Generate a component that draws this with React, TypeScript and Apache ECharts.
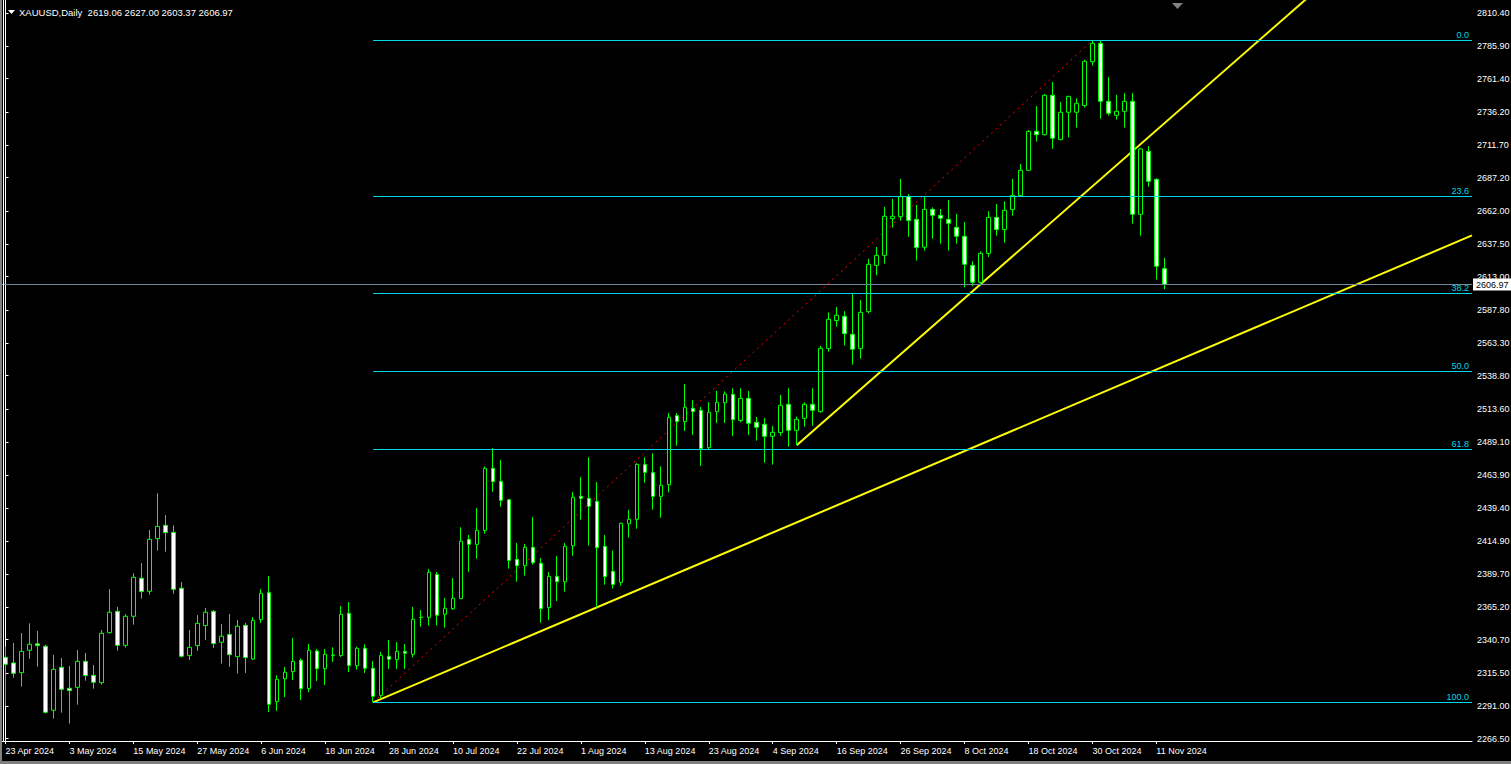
import { useEffect, useRef } from "react";
import * as echarts from "echarts";

// ---------- data ----------
const symbolTitle = "XAUUSD,Daily";
const headerValues = ["2619.06", "2627.00", "2603.37", "2606.97"];

const opens = [
  2327.5, 2323.3, 2316.0, 2332.8, 2337.6, 2335.8, 2287.8, 2320.0, 2304.3, 2305.0,
  2324.5, 2314.0, 2308.5, 2346.0, 2362.0, 2336.5, 2358.3, 2386.8, 2377.0, 2416.5,
  2426.5, 2421.2, 2379.3, 2328.8, 2336.3, 2351.3, 2362.0, 2338.8, 2344.7, 2328.0,
  2351.5, 2326.3, 2355.7, 2376.2, 2294.3, 2311.5, 2316.8, 2325.3, 2304.0, 2332.3,
  2319.0, 2329.3, 2328.8, 2360.5, 2321.3, 2334.3, 2319.3, 2299.0, 2328.3, 2325.8,
  2332.0, 2329.8, 2357.6, 2357.5, 2389.7, 2359.8, 2364.0, 2371.5, 2416.0, 2412.2,
  2422.7, 2469.2, 2459.5, 2445.7, 2401.0, 2396.2, 2410.0, 2398.0, 2364.8, 2388.2,
  2384.2, 2411.2, 2448.2, 2446.7, 2444.5, 2410.7, 2392.0, 2383.7, 2427.7, 2431.0,
  2472.0, 2466.0, 2448.2, 2457.0, 2508.7, 2504.2, 2514.2, 2512.7, 2484.7, 2511.7,
  2518.4, 2524.7, 2505.0, 2521.7, 2503.7, 2502.2, 2493.2, 2496.0, 2517.2, 2497.7,
  2506.7, 2517.2, 2511.7, 2559.0, 2580.0, 2583.2, 2569.7, 2559.0, 2586.7, 2621.4,
  2628.9, 2656.4, 2657.9, 2672.9, 2655.9, 2635.0, 2663.4, 2658.9, 2655.9, 2649.9,
  2643.2, 2621.4, 2608.7, 2630.4, 2657.4, 2648.2, 2663.2, 2673.7, 2692.7, 2721.9,
  2719.4, 2748.9, 2715.7, 2736.2, 2736.2, 2741.2, 2774.1, 2787.9, 2744.4, 2733.9,
  2736.9, 2744.4, 2659.7, 2706.9, 2685.9, 2619.06,
];
const highs = [
  2335.5, 2338.3, 2345.7, 2353.0, 2347.3, 2336.8, 2329.3, 2327.0, 2321.0, 2333.0,
  2330.8, 2321.8, 2348.0, 2378.7, 2365.3, 2359.8, 2390.5, 2398.2, 2423.0, 2450.5,
  2434.2, 2426.5, 2384.0, 2348.0, 2359.2, 2364.5, 2363.0, 2352.5, 2360.0, 2355.5,
  2353.3, 2357.7, 2378.7, 2388.5, 2314.0, 2320.3, 2342.0, 2326.8, 2337.5, 2333.8,
  2333.8, 2335.0, 2366.0, 2369.0, 2335.5, 2337.3, 2324.8, 2331.5, 2340.5, 2339.0,
  2337.5, 2365.3, 2363.0, 2393.8, 2391.5, 2372.0, 2387.0, 2425.0, 2419.2, 2439.5,
  2470.5, 2484.5, 2475.5, 2446.0, 2413.2, 2412.5, 2432.7, 2402.0, 2391.5, 2403.5,
  2413.2, 2451.5, 2462.7, 2477.5, 2459.0, 2419.2, 2407.7, 2428.5, 2438.0, 2473.0,
  2477.5, 2480.5, 2470.7, 2510.7, 2510.7, 2532.4, 2520.4, 2515.2, 2518.9, 2527.4,
  2526.9, 2529.2, 2529.2, 2527.2, 2507.7, 2507.0, 2501.0, 2524.2, 2529.2, 2508.0,
  2518.7, 2529.2, 2561.0, 2586.2, 2590.2, 2587.0, 2600.2, 2595.5, 2626.2, 2635.2,
  2665.2, 2671.2, 2686.2, 2674.9, 2666.7, 2672.9, 2664.9, 2663.7, 2670.4, 2659.9,
  2653.9, 2624.4, 2631.9, 2661.9, 2667.4, 2669.4, 2686.2, 2697.4, 2722.9, 2740.9,
  2749.9, 2758.9, 2743.9, 2748.6, 2746.6, 2775.6, 2790.1, 2789.6, 2762.6, 2749.2,
  2750.6, 2750.6, 2709.5, 2710.9, 2686.7, 2627.0,
];
const lows = [
  2291.0, 2312.3, 2305.5, 2326.3, 2320.5, 2285.3, 2281.5, 2286.0, 2277.8, 2292.0,
  2310.0, 2304.0, 2307.0, 2345.3, 2332.5, 2334.8, 2352.0, 2371.5, 2374.5, 2407.5,
  2406.7, 2375.2, 2327.3, 2325.5, 2332.3, 2340.5, 2334.5, 2322.8, 2320.3, 2315.3,
  2315.8, 2325.5, 2353.3, 2286.5, 2287.3, 2297.8, 2310.5, 2295.5, 2301.5, 2309.8,
  2306.8, 2324.0, 2327.8, 2316.5, 2318.3, 2315.8, 2293.7, 2296.8, 2318.8, 2318.8,
  2318.8, 2327.5, 2350.5, 2351.3, 2351.3, 2349.8, 2363.0, 2371.5, 2391.7, 2401.5,
  2420.2, 2451.7, 2440.5, 2394.0, 2384.2, 2388.8, 2397.0, 2353.5, 2355.5, 2369.8,
  2376.8, 2403.7, 2430.7, 2411.2, 2365.0, 2382.0, 2379.0, 2381.2, 2417.2, 2424.0,
  2458.5, 2438.2, 2432.2, 2451.2, 2486.2, 2497.2, 2494.2, 2471.0, 2483.5, 2503.2,
  2503.2, 2493.5, 2503.7, 2494.2, 2490.0, 2473.5, 2472.0, 2493.7, 2485.5, 2486.5,
  2500.5, 2501.2, 2511.0, 2556.7, 2575.5, 2561.2, 2547.0, 2551.5, 2585.4, 2613.9,
  2622.7, 2649.7, 2654.9, 2642.9, 2625.0, 2632.5, 2641.4, 2637.7, 2632.5, 2637.7,
  2604.9, 2605.7, 2606.2, 2627.7, 2643.7, 2638.4, 2658.7, 2673.2, 2692.2, 2714.2,
  2718.7, 2708.9, 2715.2, 2717.2, 2724.7, 2739.7, 2771.1, 2731.4, 2733.6, 2730.7,
  2724.7, 2652.7, 2643.7, 2680.4, 2610.7, 2603.37,
];
const closes = [
  2322.3, 2315.5, 2332.0, 2337.3, 2336.3, 2286.3, 2318.5, 2303.5, 2302.5, 2324.5,
  2313.8, 2308.8, 2345.5, 2361.3, 2336.5, 2358.3, 2387.5, 2376.8, 2416.0, 2425.7,
  2421.0, 2378.5, 2328.3, 2335.0, 2353.0, 2361.3, 2337.8, 2343.3, 2329.5, 2350.8,
  2327.3, 2355.2, 2375.5, 2292.3, 2311.0, 2316.3, 2324.5, 2304.0, 2332.8, 2319.0,
  2329.8, 2329.0, 2359.7, 2321.3, 2334.3, 2319.3, 2298.3, 2329.0, 2326.0, 2332.0,
  2330.5, 2356.0, 2357.4, 2391.3, 2359.0, 2364.3, 2371.8, 2414.5, 2412.2, 2422.7,
  2469.2, 2459.2, 2445.2, 2400.2, 2396.2, 2410.0, 2398.5, 2364.0, 2388.2, 2384.2,
  2410.7, 2447.5, 2446.7, 2440.7, 2409.7, 2388.0, 2382.2, 2428.0, 2431.0, 2472.2,
  2466.2, 2448.2, 2456.5, 2507.5, 2504.4, 2515.0, 2511.7, 2484.0, 2511.2, 2518.7,
  2524.9, 2505.7, 2521.7, 2503.0, 2500.0, 2493.2, 2496.2, 2516.5, 2497.7, 2506.0,
  2517.2, 2512.7, 2559.2, 2581.0, 2584.0, 2570.2, 2558.5, 2586.2, 2622.2, 2628.9,
  2658.2, 2658.2, 2672.9, 2655.0, 2634.8, 2663.4, 2658.9, 2656.7, 2652.9, 2643.2,
  2622.2, 2608.7, 2630.4, 2657.4, 2648.2, 2662.7, 2673.9, 2692.7, 2721.9, 2719.4,
  2748.9, 2716.7, 2736.2, 2748.1, 2742.9, 2774.4, 2787.9, 2744.4, 2735.4, 2736.9,
  2744.4, 2659.7, 2708.7, 2684.4, 2620.7, 2606.97,
];

const yTickLabels = [
  2266.5, 2291.0, 2315.5, 2340.7, 2365.2, 2389.7, 2414.9, 2439.4, 2463.9, 2489.1,
  2513.6, 2538.8, 2563.3, 2587.8, 2613.0, 2637.5, 2662.0, 2687.2, 2711.7, 2736.2,
  2761.4, 2785.9, 2810.4,
];
const fibLevels = [0, 23.6, 38.2, 50.0, 61.8, 100.0];
const fibLow = [46, 2293.7];
const fibHigh = [136, 2790.1];
const trend1 = [[46, 2293.7], [74, 2365.0]];
const trend2 = [[99, 2486.5], [122, 2607.2]];
const bidPrice = 2606.97;

const firstDate = [2024, 3, 23];
const monthNames = ["Jan", "Feb", "Mar", "Apr", "May", "Jun", "Jul", "Aug", "Sep", "Oct", "Nov", "Dec"];
const totalSlots = 184;
const yMin = 2264.77;
const yMax = 2820.37;

// ---------- helpers ----------
function buildDates(n: number): string[] {
  const out: string[] = [];
  const d = new Date(Date.UTC(firstDate[0], firstDate[1], firstDate[2]));
  while (out.length < n) {
    const wd = d.getUTCDay();
    if (wd !== 0 && wd !== 6) {
      out.push(`${d.getUTCDate()} ${monthNames[d.getUTCMonth()]} ${d.getUTCFullYear()}`);
    }
    d.setUTCDate(d.getUTCDate() + 1);
  }
  return out;
}

function ray(a: number[][], endX: number): number[][] {
  const slope = (a[1][1] - a[0][1]) / (a[1][0] - a[0][0]);
  return [a[0], [endX, a[0][1] + slope * (endX - a[0][0])]];
}

const FONT = "Liberation Sans";
const CYAN = "#00d8e6";

export default function App() {
  const ref = useRef<HTMLDivElement>(null);

  useEffect(() => {
    if (!ref.current) return;
    const chart = echarts.init(ref.current, undefined, { renderer: "svg" });
    const dates = buildDates(opens.length);
    const cats = dates.concat(new Array(totalSlots - dates.length).fill(""));
    const candleData = opens.map((o, i) => [o, closes[i], lows[i], highs[i]]);
    const endX = totalSlots - 0.5;
    const fibPrice = (l: number) => fibHigh[1] - ((fibHigh[1] - fibLow[1]) * l) / 100;
    const showIdx = (idx: number, val: string) => idx % 8 === 0 && val !== "";

    chart.setOption({
      animation: false,
      backgroundColor: "#000000",
      grid: { left: 1.5, top: 0, width: 1470.5, height: 741, containLabel: false, outerBoundsMode: "none" },
      xAxis: [
        {
          type: "category",
          data: cats,
          boundaryGap: true,
          axisLine: { show: true, lineStyle: { color: "#ffffff", width: 1 } },
          axisTick: { show: true, alignWithLabel: true, interval: showIdx, length: 3, lineStyle: { color: "#ffffff" } },
          axisLabel: {
            interval: showIdx,
            color: "#ffffff",
            fontSize: 9,
            fontFamily: FONT,
            align: "left",
            margin: 5,
          },
          splitLine: { show: false },
        },
        { type: "value", min: -0.5, max: endX, show: false },
      ],
      yAxis: {
        type: "value",
        position: "right",
        min: yMin,
        max: yMax,
        axisLine: { show: true, lineStyle: { color: "#ffffff", width: 1 } },
        axisTick: { show: true, length: 3, customValues: yTickLabels, lineStyle: { color: "#ffffff" } },
        axisLabel: {
          customValues: yTickLabels,
          color: "#ffffff",
          fontSize: 9,
          fontFamily: FONT,
          margin: 5,
          formatter: (v: number) => v.toFixed(2),
        },
        splitLine: { show: false },
      },
      series: [
        {
          type: "line",
          xAxisIndex: 1,
          data: ray(trend1, endX),
          symbol: "none",
          silent: true,
          lineStyle: { color: "#ffff00", width: 2 },
          z: 3,
        },
        {
          type: "line",
          xAxisIndex: 1,
          data: ray(trend2, endX),
          symbol: "none",
          silent: true,
          lineStyle: { color: "#ffff00", width: 2 },
          z: 3,
        },
        {
          type: "line",
          xAxisIndex: 1,
          data: [fibLow, fibHigh],
          symbol: "none",
          silent: true,
          lineStyle: { color: "#ff0000", width: 1, type: [2, 4] },
          z: 2,
          markLine: {
            silent: true,
            symbol: ["none", "none"],
            lineStyle: { color: CYAN, width: 1, type: "solid" },
            label: {
              show: true,
              position: "insideEndTop",
              formatter: "{b}",
              color: CYAN,
              fontSize: 9,
              fontFamily: FONT,
              distance: [3, 1],
            },
            data: fibLevels.map((l) => [
              { coord: [fibLow[0], fibPrice(l)], name: l.toFixed(1) },
              { coord: [endX, fibPrice(l)] },
            ]),
          },
        },
        {
          type: "candlestick",
          xAxisIndex: 0,
          data: candleData,
          barWidth: 4,
          z: 4,
          itemStyle: {
            color: "#000000",
            color0: "#ffffff",
            borderColor: "#00ff00",
            borderColor0: "#00ff00",
            borderColorDoji: "#00ff00",
            borderWidth: 1,
          },
          markLine: {
            silent: true,
            symbol: ["none", "none"],
            lineStyle: { color: "#778899", width: 1, type: "solid" },
            label: {
              show: true,
              position: "end",
              formatter: bidPrice.toFixed(2),
              color: "#000000",
              backgroundColor: "#ffffff",
              fontSize: 9,
              fontFamily: FONT,
              padding: [2, 3, 1, 3],
              distance: 1,
            },
            data: [{ yAxis: bidPrice }],
          },
        },
      ],
      graphic: [
        { type: "rect", shape: { x: 0, y: 0, width: 2, height: 764 }, style: { fill: "#808080" }, z: 100 },
        { type: "line", shape: { x1: 3.5, y1: 0, x2: 3.5, y2: 741 }, style: { stroke: "#ffffff", lineWidth: 1 }, z: 100 },
        { type: "rect", shape: { x: 0, y: 761, width: 1511, height: 3 }, style: { fill: "#808080" }, z: 100 },
        { type: "polygon", shape: { points: [[8, 10], [15, 10], [11.5, 14]] }, style: { fill: "#ffffff" }, z: 100 },
        {
          type: "text",
          x: 19,
          y: 12.5,
          style: {
            text: `${symbolTitle}  ${headerValues.join(" ")}`,
            fill: "#ffffff",
            font: `9.5px '${FONT}'`,
            verticalAlign: "middle",
          },
          z: 100,
        },
        { type: "polygon", shape: { points: [[1172, 3], [1183, 3], [1177.5, 9]] }, style: { fill: "#808080" }, z: 100 },
      ],
    });

    return () => chart.dispose();
  }, []);

  return (
    <div
      ref={ref}
      style={{ position: "fixed", left: 0, top: 0, width: 1511, height: 764, background: "#000" }}
    />
  );
}
